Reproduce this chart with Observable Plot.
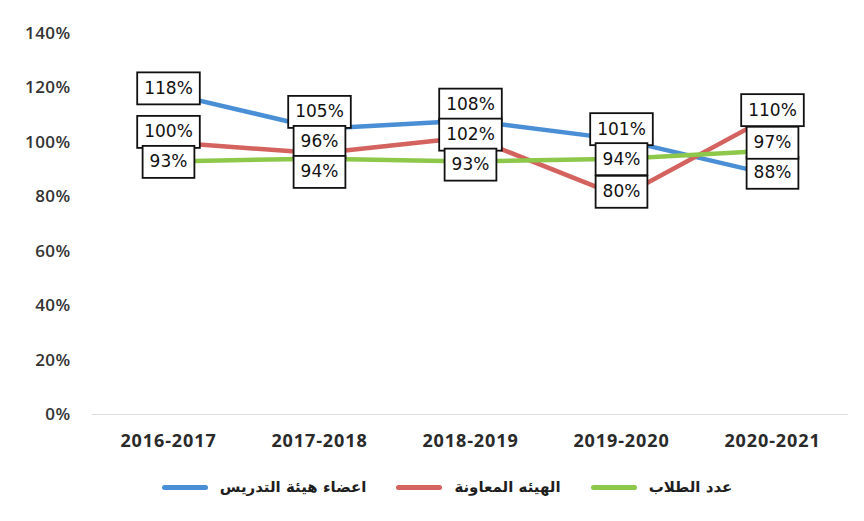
<!DOCTYPE html>
<html>
<head>
<meta charset="utf-8">
<script src="https://cdn.jsdelivr.net/npm/d3@7"></script>
<script src="https://cdn.jsdelivr.net/npm/@observablehq/plot@0.6"></script>
<style>
  body { margin: 0; background: #fff; }
  #chart svg { display: block; }
  g[aria-label="x-axis tick label"] text { letter-spacing: 0.9px; }
  g[aria-label="y-axis tick label"] text { letter-spacing: 0.4px; }
  #legend { display: flex; justify-content: center; align-items: center; height: 34px;
            padding-left: 30px; direction: ltr; font: bold 15px "DejaVu Sans", sans-serif; color: #1e1e1e; }
  .item { display: flex; align-items: center; margin: 0 15px; }
  .sw { width: 46px; height: 5px; border-radius: 3px; margin-right: 12px; }
</style>
</head>
<body>
<div id="chart"></div>
<script>
const years = ["2016-2017", "2017-2018", "2018-2019", "2019-2020", "2020-2021"];
const seriesNames = ["اعضاء هيئة التدريس", "الهيئه المعاونة", "عدد الطلاب"];
const faculty = [118, 105, 108, 101, 88];
const assistants = [100, 96, 102, 80, 110];
const students = [93, 94, 93, 94, 97];
const yTicks = [0, 20, 40, 60, 80, 100, 120, 140];
const colors = ["#4a8fd6", "#d4625f", "#8dc84a"];

const data = [faculty, assistants, students].flatMap((vals, s) =>
  vals.map((v, i) => ({ year: years[i], series: seriesNames[s], value: v })));

const labelFont = "17px 'DejaVu Sans'";
const canvas = document.createElement("canvas").getContext("2d");

function boxedLabels(index, scales, values, dimensions, context, next) {
  const X = values.x;
  const Y0 = values.y;
  const Y = Float64Array.from(Y0);
  const gap = 30, lift = 5;
  const groups = d3.group(index, i => Math.round(X[i]));
  for (const [, idx] of groups) {
    const sorted = [...idx].sort((a, b) => Y0[a] - Y0[b]);
    const place = c => { const n = c.items.length; c.top = c.sum / n - (n - 1) * gap / 2; return c; };
    let clusters = sorted.map(i => place({ items: [i], sum: Y0[i] }));
    let changed = true;
    while (changed) {
      changed = false;
      for (let k = 0; k < clusters.length - 1; k++) {
        const a = clusters[k], b = clusters[k + 1];
        if (a.top + a.items.length * gap > b.top) {
          clusters.splice(k, 2, place({ items: [...a.items, ...b.items], sum: a.sum + b.sum }));
          changed = true;
          break;
        }
      }
    }
    for (const c of clusters) c.items.forEach((i, k) => { Y[i] = c.top + k * gap - lift; });
  }
  const g = next(index, scales, { ...values, y: Y }, dimensions, context);
  canvas.font = labelFont;
  const texts = g.querySelectorAll("text");
  texts.forEach((t, j) => {
    const i = index[j];
    const w = canvas.measureText(t.textContent).width + 14;
    const h = 32;
    const r = document.createElementNS("http://www.w3.org/2000/svg", "rect");
    r.setAttribute("x", X[i] - w / 2);
    r.setAttribute("y", Y[i] - h / 2);
    r.setAttribute("width", w);
    r.setAttribute("height", h);
    r.setAttribute("fill", "#fff");
    r.setAttribute("stroke", "#111");
    r.setAttribute("stroke-width", 1.8);
    g.insertBefore(r, t);
  });
  return g;
}

const chart = Plot.plot({
  width: 864,
  height: 470,
  marginLeft: 92,
  marginRight: 16,
  marginTop: 33,
  marginBottom: 56,
  style: { fontFamily: "'Open Sans', sans-serif", background: "#fff" },
  x: { type: "point", domain: years, padding: 0.5 },
  y: { domain: [0, 140] },
  color: { domain: seriesNames, range: colors },
  marks: [
    Plot.ruleY([0], { stroke: "#dcdcdc" }),
    Plot.axisY(yTicks, { tickFormat: d => d + "%", tickSize: 0, tickPadding: 22, fontSize: 17, fontWeight: 600, fill: "#333", label: null }),
    Plot.axisX({ tickSize: 0, tickPadding: 20, fontSize: 18, fontWeight: 700, fill: "#2a2a2a", label: null }),
    Plot.lineY(data, { x: "year", y: "value", stroke: "series", strokeWidth: 4.5, strokeLinecap: "round" }),
    Plot.text(data, { x: "year", y: "value", text: d => d.value + "%", fontSize: 17, fontFamily: "DejaVu Sans", fill: "#111", render: boxedLabels })
  ]
});
document.getElementById("chart").append(chart);

const legend = document.createElement("div");
legend.id = "legend";
seriesNames.forEach((name, s) => {
  const item = document.createElement("div");
  item.className = "item";
  const sw = document.createElement("span");
  sw.className = "sw";
  sw.style.background = colors[s];
  const tx = document.createElement("span");
  tx.textContent = name;
  tx.setAttribute("dir", "rtl");
  item.append(sw, tx);
  legend.append(item);
});
document.body.append(legend);
</script>
</body>
</html>
